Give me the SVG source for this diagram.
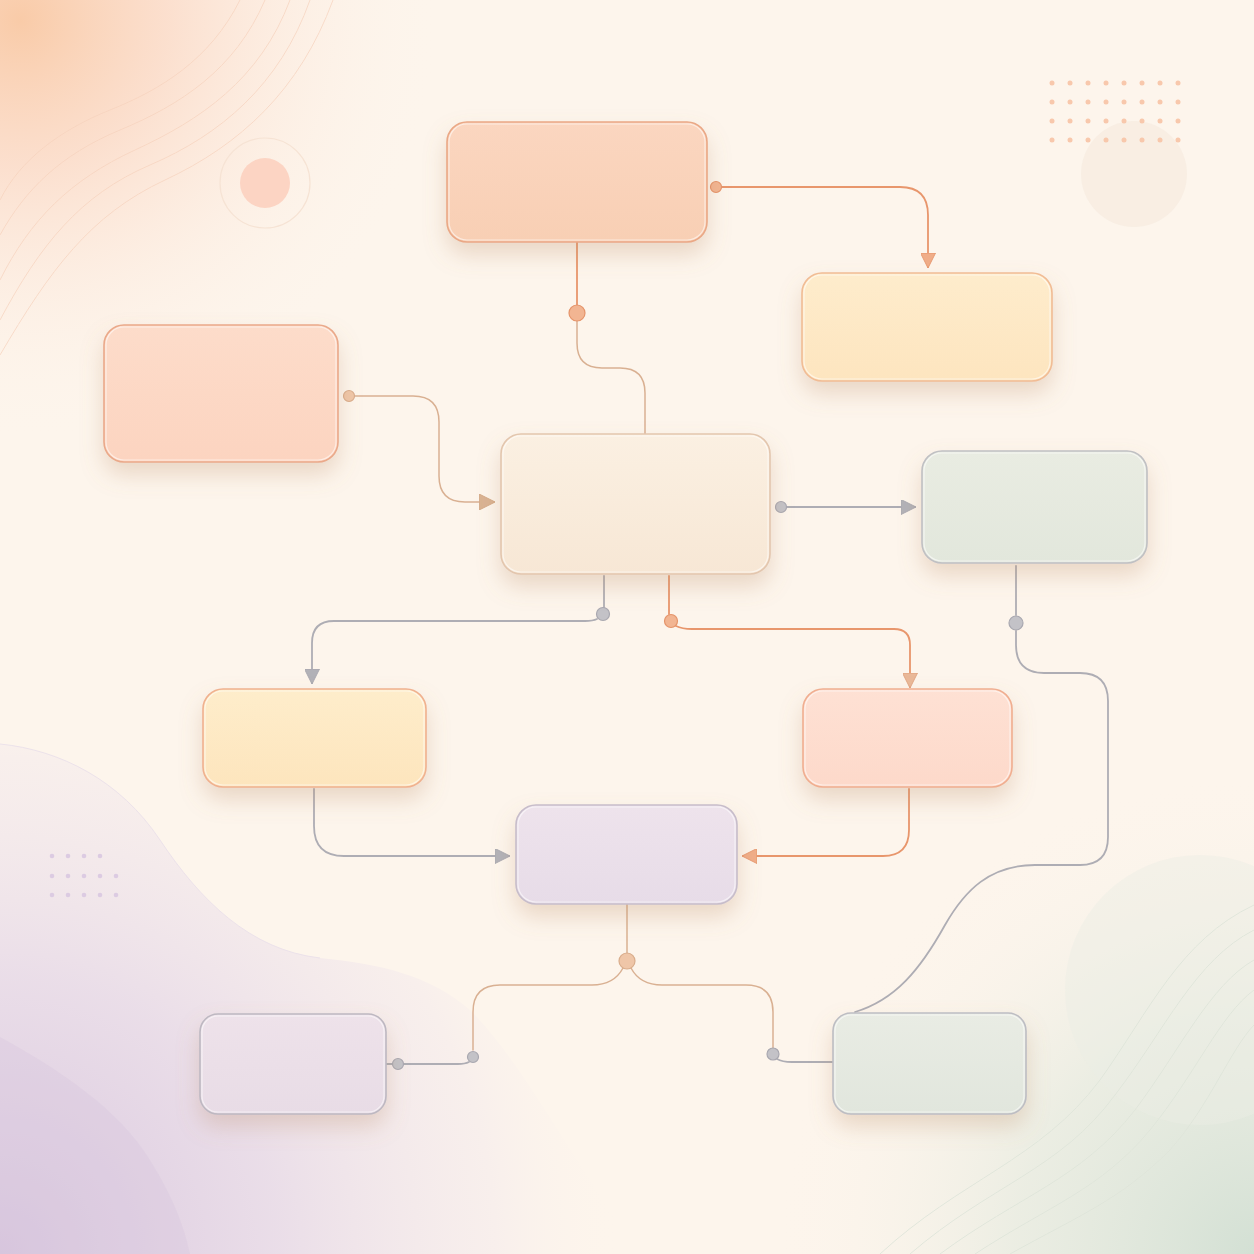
<svg xmlns="http://www.w3.org/2000/svg" width="1254" height="1254" viewBox="0 0 1254 1254">
<defs>
<style>
.node rect.box{stroke-width:1.6}
.node rect.hl{fill:none;stroke:#ffffff;stroke-opacity:0.55;stroke-width:1.2}
.cg{fill:none;stroke:#aeadb4;stroke-width:1.8;stroke-linecap:round}
.co{fill:none;stroke:#e8966c;stroke-width:1.8;stroke-linecap:round}
.ct{fill:none;stroke:#d9b092;stroke-width:1.5;stroke-linecap:round}
.dg{fill:#c3c2c7;stroke:#a9a8b0;stroke-width:1.2}
.do{fill:#f2b592;stroke:#e5946a;stroke-width:1.2}
.dt{fill:#efc6a8;stroke:#d9ad8c;stroke-width:1.2}
.deco{fill:none;stroke-width:1}
</style>
<filter id="sh" x="-30%" y="-30%" width="160%" height="180%">
<feDropShadow dx="0" dy="12" stdDeviation="11" flood-color="#b88a66" flood-opacity="0.28"/>
</filter>
<radialGradient id="bgTL" cx="20" cy="20" r="420" gradientUnits="userSpaceOnUse">
<stop offset="0" stop-color="#f9cba8"/>
<stop offset="0.35" stop-color="#fbd8c4" stop-opacity="0.75"/>
<stop offset="0.7" stop-color="#fce6d8" stop-opacity="0.3"/>
<stop offset="1" stop-color="#fdf5ec" stop-opacity="0"/>
</radialGradient>
<radialGradient id="bgBR" cx="1254" cy="1254" r="480" gradientUnits="userSpaceOnUse">
<stop offset="0" stop-color="#d3e0d4"/>
<stop offset="0.5" stop-color="#e4eadf" stop-opacity="0.7"/>
<stop offset="1" stop-color="#fdf5ec" stop-opacity="0"/>
</radialGradient>
<radialGradient id="bgBL" cx="0" cy="1254" r="620" gradientUnits="userSpaceOnUse">
<stop offset="0" stop-color="#d8c6de"/>
<stop offset="0.45" stop-color="#e8dbe8" stop-opacity="0.9"/>
<stop offset="0.8" stop-color="#f3e9ec" stop-opacity="0.5"/>
<stop offset="1" stop-color="#fdf5ec" stop-opacity="0"/>
</radialGradient>
<linearGradient id="g1" x1="0" y1="0" x2="0" y2="1"><stop offset="0" stop-color="#fbd6c0"/><stop offset="1" stop-color="#f8cfb4"/></linearGradient>
<linearGradient id="g2" x1="0" y1="0" x2="0" y2="1"><stop offset="0" stop-color="#feeccc"/><stop offset="1" stop-color="#fde5bf"/></linearGradient>
<linearGradient id="g3" x1="0" y1="0" x2="0" y2="1"><stop offset="0" stop-color="#fddcca"/><stop offset="1" stop-color="#fcd4c0"/></linearGradient>
<linearGradient id="g4" x1="0" y1="0" x2="0" y2="1"><stop offset="0" stop-color="#fbf0e2"/><stop offset="1" stop-color="#f7e7d5"/></linearGradient>
<linearGradient id="g5" x1="0" y1="0" x2="0" y2="1"><stop offset="0" stop-color="#e9ece2"/><stop offset="1" stop-color="#e2e7dc"/></linearGradient>
<linearGradient id="g6" x1="0" y1="0" x2="0" y2="1"><stop offset="0" stop-color="#feedcb"/><stop offset="1" stop-color="#fde5bd"/></linearGradient>
<linearGradient id="g7" x1="0" y1="0" x2="0" y2="1"><stop offset="0" stop-color="#fee1d4"/><stop offset="1" stop-color="#fdd9ca"/></linearGradient>
<linearGradient id="g8" x1="0" y1="0" x2="0" y2="1"><stop offset="0" stop-color="#eee3ec"/><stop offset="1" stop-color="#e7dce8"/></linearGradient>
<linearGradient id="g9" x1="0" y1="0" x2="0" y2="1"><stop offset="0" stop-color="#eee2ea"/><stop offset="1" stop-color="#e8dce6"/></linearGradient>
<linearGradient id="g10" x1="0" y1="0" x2="0" y2="1"><stop offset="0" stop-color="#e9ece4"/><stop offset="1" stop-color="#e1e6dd"/></linearGradient>
<marker id="ag" viewBox="0 0 14 14" refX="13" refY="7" markerWidth="15" markerHeight="15" markerUnits="userSpaceOnUse" orient="auto">
<path d="M0,0 L14,7 L0,14 z" fill="#b2b1b7" stroke="#a6a5ad" stroke-width="0.8"/>
</marker>
<marker id="ao" viewBox="0 0 14 14" refX="13" refY="7" markerWidth="15" markerHeight="15" markerUnits="userSpaceOnUse" orient="auto">
<path d="M0,0 L14,7 L0,14 z" fill="#f0ad88" stroke="#e5946a" stroke-width="0.8"/>
</marker>
<marker id="at" viewBox="0 0 14 14" refX="13" refY="7" markerWidth="16" markerHeight="16" markerUnits="userSpaceOnUse" orient="auto">
<path d="M0,0 L14,7 L0,14 z" fill="#d9b292" stroke="#d2a784" stroke-width="0.8"/>
</marker>
<marker id="at2" viewBox="0 0 14 14" refX="13" refY="7" markerWidth="15" markerHeight="15" markerUnits="userSpaceOnUse" orient="auto">
<path d="M0,0 L14,7 L0,14 z" fill="#e9b898" stroke="#dea07c" stroke-width="0.8"/>
</marker>
</defs>

<!-- background -->
<g id="background">
<rect width="1254" height="1254" fill="#fdf5ec"/>
<rect width="1254" height="1254" fill="url(#bgTL)"/>
<rect width="1254" height="1254" fill="url(#bgBR)"/>
<path d="M0,744 C60,750 120,780 160,840 C200,900 250,950 320,958 C380,964 430,975 470,1010 C520,1060 560,1140 640,1254 L0,1254 Z" fill="url(#bgBL)"/>
<path d="M0,1037 C60,1070 120,1110 150,1160 C175,1200 185,1230 190,1254 L0,1254 Z" fill="#d7c6dd" opacity="0.35"/>
<path d="M0,744 C60,750 120,780 160,840 C200,900 250,950 320,958" fill="none" stroke="#ece2ea" stroke-width="1"/>
<!-- top-left contour lines -->
<g class="deco" stroke="#f6d2bd" opacity="0.7">
<path d="M240,0 C210,60 160,90 110,110 C60,130 20,160 0,200"/>
<path d="M265,0 C235,70 180,105 120,130 C60,155 25,190 0,235"/>
<path d="M290,0 C260,80 200,120 135,150 C70,180 30,220 0,280"/>
<path d="M310,0 C280,85 220,135 150,165 C80,195 40,245 0,320"/>
<path d="M333,0 C300,90 240,145 165,180 C90,215 50,270 0,355"/>
</g>
<circle cx="265" cy="183" r="45" fill="none" stroke="#f6e3d4" stroke-width="1.2"/>
<circle cx="265" cy="183" r="25" fill="#fcd4c3"/>
<!-- top-right dots -->
<circle cx="1134" cy="174" r="53" fill="#f7ebdf" opacity="0.7"/>
<g fill="#f8c8ac">
<circle cx="1052" cy="83" r="2.5"/><circle cx="1070" cy="83" r="2.5"/><circle cx="1088" cy="83" r="2.5"/><circle cx="1106" cy="83" r="2.5"/><circle cx="1124" cy="83" r="2.5"/><circle cx="1142" cy="83" r="2.5"/><circle cx="1160" cy="83" r="2.5"/><circle cx="1178" cy="83" r="2.5"/>
<circle cx="1052" cy="102" r="2.5"/><circle cx="1070" cy="102" r="2.5"/><circle cx="1088" cy="102" r="2.5"/><circle cx="1106" cy="102" r="2.5"/><circle cx="1124" cy="102" r="2.5"/><circle cx="1142" cy="102" r="2.5"/><circle cx="1160" cy="102" r="2.5"/><circle cx="1178" cy="102" r="2.5"/>
<circle cx="1052" cy="121" r="2.5"/><circle cx="1070" cy="121" r="2.5"/><circle cx="1088" cy="121" r="2.5"/><circle cx="1106" cy="121" r="2.5"/><circle cx="1124" cy="121" r="2.5"/><circle cx="1142" cy="121" r="2.5"/><circle cx="1160" cy="121" r="2.5"/><circle cx="1178" cy="121" r="2.5"/>
<circle cx="1052" cy="140" r="2.5"/><circle cx="1070" cy="140" r="2.5"/><circle cx="1088" cy="140" r="2.5"/><circle cx="1106" cy="140" r="2.5"/><circle cx="1124" cy="140" r="2.5"/><circle cx="1142" cy="140" r="2.5"/><circle cx="1160" cy="140" r="2.5"/><circle cx="1178" cy="140" r="2.5"/>
</g>
<!-- bottom-left dots -->
<g fill="#dccbe2">
<circle cx="52" cy="856" r="2.3"/><circle cx="68" cy="856" r="2.3"/><circle cx="84" cy="856" r="2.3"/><circle cx="100" cy="856" r="2.3"/>
<circle cx="52" cy="876" r="2.3"/><circle cx="68" cy="876" r="2.3"/><circle cx="84" cy="876" r="2.3"/><circle cx="100" cy="876" r="2.3"/><circle cx="116" cy="876" r="2.3"/>
<circle cx="52" cy="895" r="2.3"/><circle cx="68" cy="895" r="2.3"/><circle cx="84" cy="895" r="2.3"/><circle cx="100" cy="895" r="2.3"/><circle cx="116" cy="895" r="2.3"/>
</g>
<!-- bottom-right circle and contour lines -->
<circle cx="1200" cy="990" r="135" fill="#eceee4" opacity="0.45"/>
<g class="deco" stroke="#dfe5da" opacity="0.9">
<path d="M880,1254 C960,1180 1040,1160 1100,1080 C1150,1010 1180,940 1254,905"/>
<path d="M910,1254 C990,1185 1060,1170 1115,1095 C1165,1030 1195,960 1254,930"/>
<path d="M940,1254 C1020,1195 1080,1180 1135,1110 C1180,1050 1210,985 1254,960"/>
<path d="M975,1254 C1050,1205 1100,1190 1150,1130 C1195,1075 1220,1015 1254,990"/>
<path d="M1010,1254 C1080,1215 1120,1200 1170,1150 C1210,1105 1230,1050 1254,1025"/>
</g>
</g>

<!-- connectors -->
<g id="connectors">
<path class="co" d="M716,187 H900 Q928,187 928,215 V267" marker-end="url(#ao)"/>
<circle class="do" cx="716" cy="187" r="5.5"/>
<path class="co" d="M577,242 V305" stroke-width="2"/>
<path class="ct" d="M577,321 V343 Q577,368 602,368 H620 Q645,368 645,393 V434" stroke-width="1.3"/>
<circle class="do" cx="577" cy="313" r="8"/>
<path class="ct" d="M349,396 H413 Q439,396 439,422 V476 Q439,502 465,502 H494" stroke="#dda282" stroke-width="1.6" marker-end="url(#at)"/>
<circle class="dt" cx="349" cy="396" r="5.5" fill="#ecbb9c" stroke="#d99f80"/>
<path class="cg" d="M781,507 H915" stroke-width="2" marker-end="url(#ag)"/>
<circle class="dg" cx="781" cy="507" r="5.5"/>
<path class="cg" d="M604,576 V608" stroke-width="1.6"/>
<path class="cg" d="M597,619 Q593,621 585,621 H334 Q312,621 312,643 V683" stroke="#b4b0ba" stroke-width="1.6" marker-end="url(#ag)"/>
<circle class="dg" cx="603" cy="614" r="6.5"/>
<path class="co" d="M669,576 V614"/>
<path class="co" d="M676,626 Q682,629 692,629 H894 Q910,629 910,645 V687" stroke-width="1.5" marker-end="url(#at2)"/>
<circle class="do" cx="671" cy="621" r="6.5"/>
<path class="cg" d="M1016,566 V615" stroke-width="1.6"/>
<path class="cg" d="M1016,631 V645 Q1016,673 1044,673 H1080 Q1108,673 1108,701 V837 Q1108,865 1080,865 H1035 C990,865 965,890 945,925 C920,970 895,1000 855,1012" stroke="#b9b9bd" stroke-width="1.2"/>
<circle class="dg" cx="1016" cy="623" r="7"/>
<path class="cg" d="M314,789 V826 Q314,856 344,856 H509" stroke-width="1.6" marker-end="url(#ag)"/>
<path class="co" d="M909,789 V830 Q909,856 883,856 H743" stroke-width="1.6" marker-end="url(#ao)"/>
<path class="ct" d="M627,904 V953"/>
<path class="ct" d="M623,968 Q614,985 592,985 H500 Q473,985 473,1012 V1050"/>
<path class="ct" d="M631,968 Q640,985 662,985 H746 Q773,985 773,1012 V1048"/>
<circle class="dt" cx="627" cy="961" r="8"/>
<path class="cg" d="M469,1062 Q465,1064 458,1064 H404" stroke-width="1.5"/>
<path class="cg" d="M392,1064 H386" stroke-width="1.5"/>
<circle class="dg" cx="473" cy="1057" r="5.5"/>
<circle class="dg" cx="398" cy="1064" r="5.5"/>
<path class="cg" d="M777,1059 Q782,1062 792,1062 H833" stroke-width="1.5"/>
<circle class="dg" cx="773" cy="1054" r="6"/>
</g>

<!-- nodes -->
<g id="node-top" class="node" filter="url(#sh)">
<rect class="box" x="447" y="122" width="260" height="120" rx="20" fill="url(#g1)" stroke="#eaa886"/>
<rect class="hl" x="449" y="124" width="256" height="116" rx="18"/>
</g>
<g id="node-top-right" class="node" filter="url(#sh)">
<rect class="box" x="802" y="273" width="250" height="108" rx="20" fill="url(#g2)" stroke="#f1bc95"/>
<rect class="hl" x="804" y="275" width="246" height="104" rx="18"/>
</g>
<g id="node-left" class="node" filter="url(#sh)">
<rect class="box" x="104" y="325" width="234" height="137" rx="20" fill="url(#g3)" stroke="#eaa98a"/>
<rect class="hl" x="106" y="327" width="230" height="133" rx="18"/>
</g>
<g id="node-center" class="node" filter="url(#sh)">
<rect class="box" x="501" y="434" width="269" height="140" rx="20" fill="url(#g4)" stroke="#e3c6ae"/>
<rect class="hl" x="503" y="436" width="265" height="136" rx="18"/>
</g>
<g id="node-right" class="node" filter="url(#sh)">
<rect class="box" x="922" y="451" width="225" height="112" rx="20" fill="url(#g5)" stroke="#c0c0c3"/>
<rect class="hl" x="924" y="453" width="221" height="108" rx="18"/>
</g>
<g id="node-mid-left" class="node" filter="url(#sh)">
<rect class="box" x="203" y="689" width="223" height="98" rx="20" fill="url(#g6)" stroke="#f0b18f"/>
<rect class="hl" x="205" y="691" width="219" height="94" rx="18"/>
</g>
<g id="node-mid-right" class="node" filter="url(#sh)">
<rect class="box" x="803" y="689" width="209" height="98" rx="20" fill="url(#g7)" stroke="#f0ae90"/>
<rect class="hl" x="805" y="691" width="205" height="94" rx="18"/>
</g>
<g id="node-lavender" class="node" filter="url(#sh)">
<rect class="box" x="516" y="805" width="221" height="99" rx="20" fill="url(#g8)" stroke="#c7bdca"/>
<rect class="hl" x="518" y="807" width="217" height="95" rx="18"/>
</g>
<g id="node-bottom-left" class="node" filter="url(#sh)">
<rect class="box" x="200" y="1014" width="186" height="100" rx="18" fill="url(#g9)" stroke="#bdb8c1"/>
<rect class="hl" x="202" y="1016" width="182" height="96" rx="16"/>
</g>
<g id="node-bottom-right" class="node" filter="url(#sh)">
<rect class="box" x="833" y="1013" width="193" height="101" rx="18" fill="url(#g10)" stroke="#bdbdc3"/>
<rect class="hl" x="835" y="1015" width="189" height="97" rx="16"/>
</g>
</svg>
